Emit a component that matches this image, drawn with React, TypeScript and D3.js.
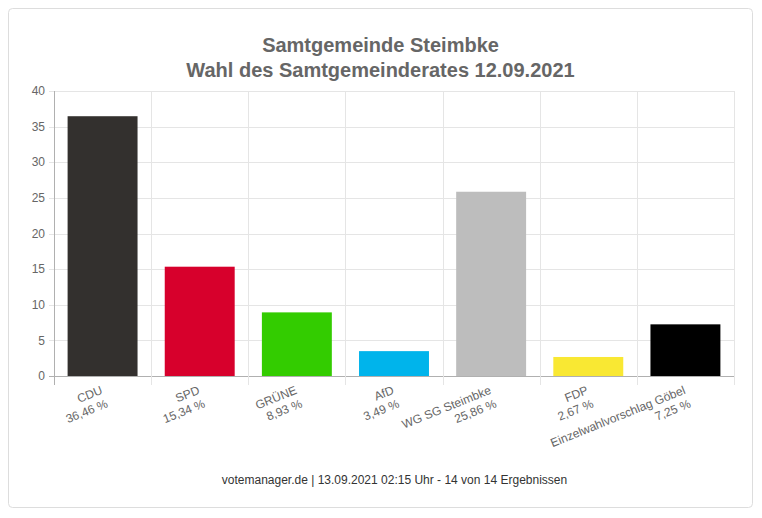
import React from "react";
import * as d3 from "d3";

const parties = ["CDU", "SPD", "GRÜNE", "AfD", "WG SG Steimbke", "FDP", "Einzelwahlvorschlag Göbel"];
const shares = [36.46, 15.34, 8.93, 3.49, 25.86, 2.67, 7.25];
const shareLabels = ["36,46 %", "15,34 %", "8,93 %", "3,49 %", "25,86 %", "2,67 %", "7,25 %"];
const colors = ["#33302e", "#d7002c", "#33cc00", "#00b4eb", "#bdbdbd", "#f9e833", "#000000"];
const yTicks = [0, 5, 10, 15, 20, 25, 30, 35, 40];
const titleLines = ["Samtgemeinde Steimbke", "Wahl des Samtgemeinderates 12.09.2021"];
const footer = "votemanager.de | 13.09.2021 02:15 Uhr - 14 von 14 Ergebnissen";

const W = 762;
const H = 518;
const plot = { left: 54, right: 734, top: 91, bottom: 376 };
const font = "'Liberation Sans', Arial, Helvetica, sans-serif";
const textColor = "#666666";
const gridColor = "#e5e5e5";
const axisColor = "#b0b0b0";

export default function App() {
  const x = d3.scaleBand<string>().domain(parties).range([plot.left, plot.right]).paddingInner(0).paddingOuter(0);
  const y = d3.scaleLinear().domain([0, 40]).range([plot.bottom, plot.top]);
  const bw = x.bandwidth();
  const barW = bw * 0.72;
  const boundaries = parties.map((p) => x(p) as number).concat([plot.right]);

  return (
    <svg width={W} height={H} style={{ position: "absolute", left: 0, top: 0, background: "#fff" }} fontFamily={font}>
      <rect x={8.5} y={8.5} width={744} height={499} rx={4} fill="#fff" stroke="#dddddd" />
      {titleLines.map((t, i) => (
        <text key={t} x={380.5} y={52 + i * 24.5} textAnchor="middle" fontSize={20} fontWeight="bold" fill={textColor}>
          {t}
        </text>
      ))}
      {/* horizontal grid */}
      {yTicks.map((t) => (
        <g key={t}>
          <line x1={plot.left - 5} x2={plot.right} y1={Math.round(y(t)) + 0.5} y2={Math.round(y(t)) + 0.5} stroke={t === 0 ? axisColor : gridColor} />
          <text x={plot.left - 9} y={y(t)} dy="0.35em" textAnchor="end" fontSize={12} fill={textColor}>
            {t}
          </text>
        </g>
      ))}
      {/* vertical grid */}
      {boundaries.map((bx, i) => (
        <line key={i} x1={Math.round(bx) + 0.5} x2={Math.round(bx) + 0.5} y1={plot.top} y2={plot.bottom + 9} stroke={i === 0 ? axisColor : gridColor} />
      ))}
      {/* bars */}
      {parties.map((p, i) => {
        const cx = (x(p) as number) + bw / 2;
        return (
          <rect key={p} x={cx - barW / 2} y={y(shares[i])} width={barW} height={plot.bottom - y(shares[i])} fill={colors[i]} />
        );
      })}
      {/* x labels */}
      {parties.map((p, i) => {
        const cx = (x(p) as number) + bw / 2;
        return (
          <g key={p} transform={`translate(${cx - 3},${plot.bottom + 8}) rotate(-22)`}>
            <text x={0} y={10} textAnchor="end" fontSize={12} fill={textColor}>
              {p}
            </text>
            <text x={0} y={24.5} textAnchor="end" fontSize={12} fill={textColor}>
              {shareLabels[i]}
            </text>
          </g>
        );
      })}
      <text x={394.5} y={484} textAnchor="middle" fontSize={12} fill="#333333">
        {footer}
      </text>
    </svg>
  );
}
